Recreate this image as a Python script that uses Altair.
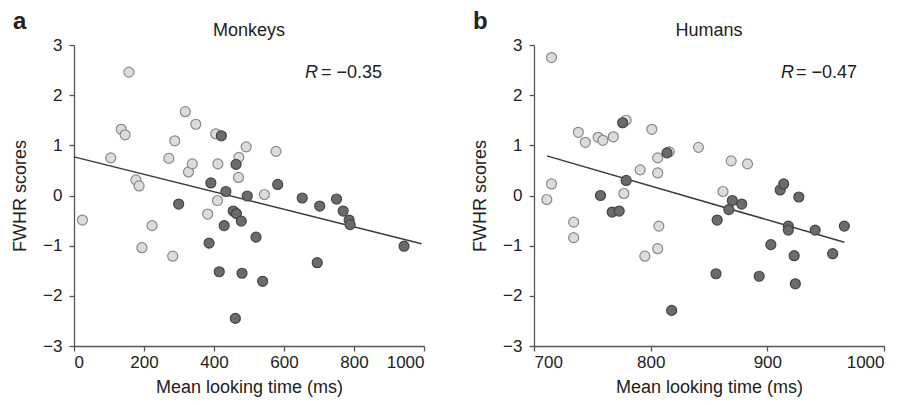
import altair as alt
import pandas as pd

# ---------------- data ----------------
mk_light_x = [24, 105, 135, 146, 157, 177, 186, 194, 223, 271, 282, 288, 318, 327, 338, 348,
              382, 405, 410, 411, 470, 471, 492, 544, 577]
mk_light_y = [-0.49, 0.75, 1.32, 1.21, 2.46, 0.31, 0.19, -1.04, -0.60, 0.74, -1.21, 1.09, 1.67,
              0.47, 0.63, 1.42, -0.37, 1.23, -0.10, 0.63, 0.36, 0.76, 0.97, 0.02, 0.88]
mk_dark_x = [299, 386, 391, 415, 421, 429, 434, 455, 461, 463, 464, 478, 480, 495, 520, 539,
             582, 652, 695, 702, 750, 769, 786, 789, 943]
mk_dark_y = [-0.17, -0.95, 0.25, -1.52, 1.19, -0.60, 0.08, -0.31, -2.45, 0.62, -0.36, -0.51,
             -1.55, -0.01, -0.83, -1.71, 0.22, -0.05, -1.34, -0.21, -0.07, -0.31, -0.49, -0.58,
             -1.01]
mk_fit_x = [0, 993]
mk_fit_y = [0.77, -0.96]

hu_light_x = [711, 715, 715, 734, 734, 738, 744, 755, 759, 768, 777, 779, 791, 795, 801, 806,
              806, 806, 807, 816, 841, 862, 869, 883]
hu_light_y = [-0.08, 2.75, 0.23, -0.53, -0.84, 1.26, 1.06, 1.16, 1.10, 1.17, 0.04, 1.50, 0.51,
              -1.21, 1.32, 0.45, 0.75, -1.06, -0.61, 0.87, 0.96, 0.08, 0.69, 0.63]
hu_dark_x = [757, 767, 773, 776, 779, 814, 818, 856, 857, 867, 870, 878, 893, 903, 911, 914,
             918, 918, 923, 924, 927, 941, 956, 966]
hu_dark_y = [0.00, -0.33, -0.31, 1.45, 0.30, 0.85, -2.29, -1.56, -0.49, -0.28, -0.10, -0.17,
             -1.61, -0.98, 0.11, 0.23, -0.61, -0.69, -1.20, -1.76, -0.03, -0.69, -1.16, -0.61]
hu_fit_x = [711, 966]
hu_fit_y = [0.79, -0.93]

y_ticks = [-3, -2, -1, 0, 1, 2, 3]
mk_x_ticks = [0, 200, 400, 600, 800, 1000]
hu_x_ticks = [700, 800, 900, 1000]

FONT = "Liberation Sans"
LIGHT_FILL, LIGHT_STROKE = "#dcdcdc", "#8a8a8a"
DARK_FILL, DARK_STROKE = "#6b6b6b", "#464646"
W, H = 350, 301


def panel(lx, ly, dx, dy, fx, fy, xdom, xticks, title, letter, rval):
    pts = pd.DataFrame({
        "x": lx + dx,
        "y": ly + dy,
        "group": ["light"] * len(lx) + ["dark"] * len(dx),
    })
    fit = pd.DataFrame({"x": fx, "y": fy})
    xs = alt.Scale(domain=xdom, nice=False, zero=False)
    ys = alt.Scale(domain=[-3, 3], nice=False)
    xax = alt.Axis(values=xticks, title="Mean looking time (ms)", labelPadding=3,
                   titlePadding=8, format="d")
    yax = alt.Axis(values=y_ticks, title="FWHR scores", labelPadding=7, titlePadding=13)

    light = alt.Chart(pts).transform_filter(alt.datum.group == "light").mark_circle(
        size=100, opacity=1, fill=LIGHT_FILL, stroke=LIGHT_STROKE, strokeWidth=1.2
    ).encode(x=alt.X("x:Q", scale=xs, axis=xax), y=alt.Y("y:Q", scale=ys, axis=yax))
    dark = alt.Chart(pts).transform_filter(alt.datum.group == "dark").mark_circle(
        size=100, opacity=1, fill=DARK_FILL, stroke=DARK_STROKE, strokeWidth=1.2
    ).encode(x=alt.X("x:Q", scale=xs), y=alt.Y("y:Q", scale=ys))
    line = alt.Chart(fit).mark_line(color="#3a3a3a", strokeWidth=1.5).encode(
        x=alt.X("x:Q", scale=xs), y=alt.Y("y:Q", scale=ys))

    def label(txt, xpx, ypx, size, weight="normal", style="normal", align="left"):
        return alt.Chart(pd.DataFrame({"t": [txt]})).mark_text(
            font=FONT, fontSize=size, fontWeight=weight, fontStyle=style, align=align,
            baseline="alphabetic", color="#222222"
        ).encode(text="t:N", x=alt.value(xpx), y=alt.value(ypx))

    title_t = label(title, W / 2, -9, 18, align="center")
    letter_t = label(letter, -61, -16, 24, weight="bold")
    r_t = label("R", rval[0], 33, 18, style="italic")
    eq_t = label(rval[2], rval[1], 33, 18)
    return alt.layer(line, light, dark, title_t, letter_t, r_t, eq_t).properties(width=W, height=H)


left = panel(mk_light_x, mk_light_y, mk_dark_x, mk_dark_y, mk_fit_x, mk_fit_y,
             [0, 1000], mk_x_ticks, "Monkeys", "a", (231, 247, "= \u22120.35"))
right = panel(hu_light_x, hu_light_y, hu_dark_x, hu_dark_y, hu_fit_x, hu_fit_y,
              [700, 1000], hu_x_ticks, "Humans", "b", (247, 262, "= \u22120.47"))

chart = alt.hconcat(left, right, spacing=46).properties(
    padding={"left": 3, "top": 2, "right": 5, "bottom": 5}
).configure_view(stroke=None).configure_axis(
    grid=False,
    domainColor="#555555", tickColor="#555555", domainWidth=1.3, tickWidth=1.3, tickSize=5,
    labelFont=FONT, titleFont=FONT, labelFontSize=17, titleFontSize=18,
    labelColor="#222222", titleColor="#222222", titleFontWeight="normal",
)

chart.save("out.html", embed_options={"renderer": "svg", "actions": False})
